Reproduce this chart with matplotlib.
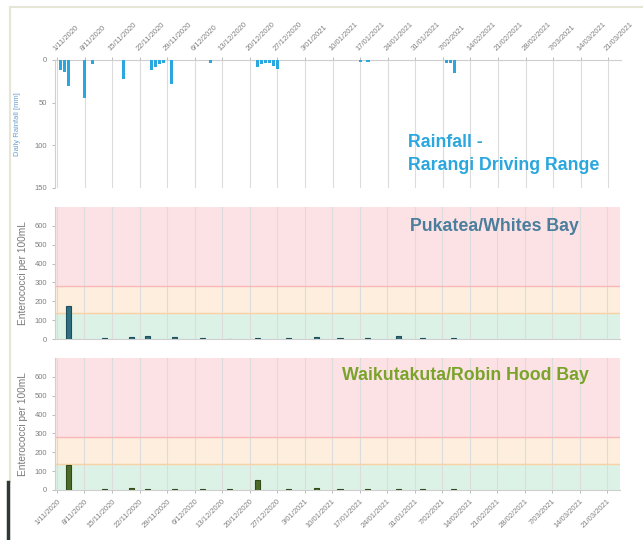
import numpy as np
import pandas as pd
import matplotlib
matplotlib.use('Agg')
import matplotlib.pyplot as plt
from matplotlib.lines import Line2D

plt.rcParams['font.family'] = ['Liberation Sans', 'DejaVu Sans']

# daily rainfall, Rarangi Driving Range (mm)
rain_dates = ['2020-11-02', '2020-11-03', '2020-11-04', '2020-11-08', '2020-11-10',
              '2020-11-18', '2020-11-25', '2020-11-26', '2020-11-27', '2020-11-28',
              '2020-11-30', '2020-12-10', '2020-12-22', '2020-12-23', '2020-12-24',
              '2020-12-25', '2020-12-26', '2020-12-27', '2021-01-17', '2021-01-19',
              '2021-02-08', '2021-02-09', '2021-02-10']
rain_mm = [12, 14, 31, 44, 5, 22, 12, 8, 5, 3, 28, 3, 8, 5, 4, 3, 7, 10, 2, 2, 3, 3, 15]

# enterococci samples (per 100mL)
sample_dates = ['2020-11-04', '2020-11-13', '2020-11-20', '2020-11-24', '2020-12-01',
                '2020-12-08', '2020-12-15', '2020-12-22', '2020-12-30', '2021-01-06',
                '2021-01-12', '2021-01-19', '2021-01-27', '2021-02-02', '2021-02-10']
pukatea = [175, 3, 8, 18, 8, 3, 2, 3, 3, 10, 3, 3, 18, 3, 3]
waikutakuta = [130, 4, 10, 6, 4, 5, 5, 53, 5, 10, 5, 4, 5, 5, 5]

tick_labels = ['1/11/2020', '8/11/2020', '15/11/2020', '22/11/2020', '29/11/2020',
               '6/12/2020', '13/12/2020', '20/12/2020', '27/12/2020', '3/01/2021',
               '10/01/2021', '17/01/2021', '24/01/2021', '31/01/2021', '7/02/2021',
               '14/02/2021', '21/02/2021', '28/02/2021', '7/03/2021', '14/03/2021',
               '21/03/2021']
tick_dates = pd.to_datetime(tick_labels, format='%d/%m/%Y')

# guideline bands (green / amber / red)
band_edges = [0, 140, 280, 700]

rain_x = pd.to_datetime(rain_dates)
samp_x = pd.to_datetime(sample_dates)
x0 = pd.Timestamp('2020-10-31 12:00')
x1 = pd.Timestamp('2021-03-24 06:00')

W, H = 643, 540
fig = plt.figure(figsize=(W / 100, H / 100), dpi=100)

def frac(left, top, right, bottom):
    return [left / W, 1 - bottom / H, (right - left) / W, (bottom - top) / H]

grid_c = '#dcdcdc'
lab_c = '#808080'

def style_axes(ax):
    ax.set_xlim(x0, x1)
    ax.set_xticks(tick_dates)
    for s in ax.spines.values():
        s.set_color('#cfcfcf')
        s.set_linewidth(0.8)
    ax.grid(axis='x', color=grid_c, linewidth=0.8)
    ax.set_axisbelow(True)
    ax.tick_params(axis='both', colors='#b0b0b0', labelcolor=lab_c, labelsize=5.5,
                   length=2, width=0.6)

# rainfall panel
ax1 = fig.add_axes(frac(55, 60, 621, 188))
style_axes(ax1)
ax1.bar(rain_x, rain_mm, width=0.8, color='#2aa7df', align='center', zorder=3)
ax1.set_ylim(150, 0)
ax1.set_yticks([0, 50, 100, 150])
ax1.xaxis.tick_top()
ax1.set_xticklabels(tick_labels, rotation=45, ha='left', rotation_mode='anchor')
ax1.spines['bottom'].set_visible(False)
ax1.spines['right'].set_visible(False)
ax1.set_ylabel('Daily Rainfall [mm]', color='#6a9fd0', fontsize=5.5, labelpad=10)
ax1.text(0.624, 0.266, 'Rainfall -\nRarangi Driving Range', transform=ax1.transAxes,
         color='#2aa7df', fontsize=12.8, fontweight='bold', va='center', ha='left',
         linespacing=1.45)

def entero_panel(rect, values, bar_c, edge_c, title, title_c, title_x, title_y,
                 bottom_labels):
    ax = fig.add_axes(rect)
    style_axes(ax)
    ax.axhspan(band_edges[0], band_edges[1], color='#dcf2e6', zorder=0)
    ax.axhspan(band_edges[1], band_edges[2], color='#fdeedd', zorder=0)
    ax.axhspan(band_edges[2], band_edges[3], color='#fde2e5', zorder=0)
    ax.axhline(band_edges[1], color='#f6d2a6', linewidth=1, zorder=1)
    ax.axhline(band_edges[2], color='#f7b8b8', linewidth=1, zorder=1)
    ax.bar(samp_x, values, width=1.3, color=bar_c, edgecolor=edge_c, linewidth=0.8,
           zorder=3)
    ax.set_ylim(0, 700)
    ax.set_yticks([0, 100, 200, 300, 400, 500, 600])
    ax.set_ylabel('Enterococci per 100mL', color='#7a7a7a', fontsize=7.3, labelpad=5)
    ax.spines['top'].set_visible(False)
    ax.spines['right'].set_visible(False)
    if bottom_labels:
        ax.set_xticklabels(tick_labels, rotation=45, ha='right', rotation_mode='anchor')
    else:
        ax.set_xticklabels([])
        ax.tick_params(axis='x', length=0)
    ax.text(title_x, title_y, title, transform=ax.transAxes, color=title_c,
            fontsize=12.8, fontweight='bold', va='center', ha='left')
    return ax

entero_panel(frac(55, 207, 620, 339), pukatea, '#2f6f80', '#1f4e5b',
             'Pukatea/Whites Bay', '#4a7e9c', 0.628, 0.852, False)
entero_panel(frac(55, 358, 620, 490), waikutakuta, '#4d6b28', '#33491a',
             'Waikutakuta/Robin Hood Bay', '#7aa32a', 0.508, 0.871, True)

# faint frame of the source screenshot
fig.add_artist(Line2D([10 / W, 1], [1 - 7 / H, 1 - 7 / H], color='#e6e6d6', linewidth=1.5))
fig.add_artist(Line2D([10 / W, 10 / W], [1 - 7 / H, 1 - 482 / H], color='#e6e6d6',
                      linewidth=1.5))
fig.add_artist(Line2D([8 / W, 8 / W], [1 - 482 / H, 0], color='#2e3a33', linewidth=2.5))

fig.savefig('out.png', dpi=100)
